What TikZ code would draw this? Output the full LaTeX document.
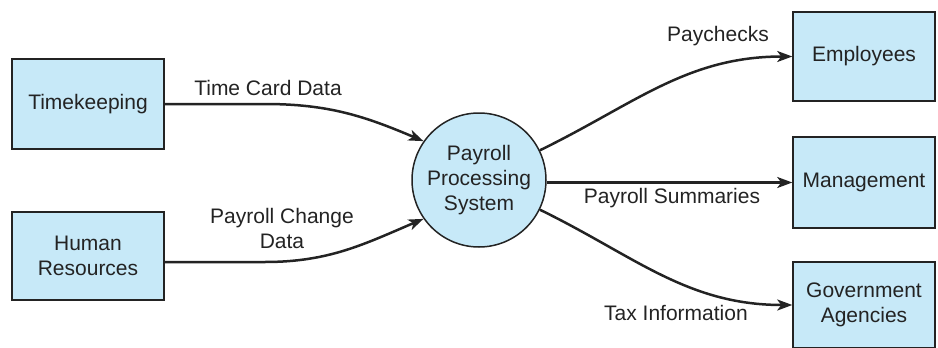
\documentclass[tikz,border=0pt]{standalone}
\usepackage{fontspec}
\setmainfont{Liberation Sans}
\usetikzlibrary{arrows.meta}
\definecolor{boxfill}{RGB}{199,233,248}
\definecolor{edge}{RGB}{35,35,35}
\begin{document}
\begin{tikzpicture}[x=1pt,y=-1pt,
  font=\fontsize{21}{25}\selectfont,
  entity/.style={draw=edge,line width=1.5pt,fill=boxfill,minimum width=152pt,minimum height=90pt,align=center,text=edge,inner sep=0pt},
  proc/.style={draw=edge,line width=1.5pt,fill=boxfill,circle,minimum size=134pt,align=center,text=edge,inner sep=0pt},
  flow/.style={draw=edge,line width=2.5pt,-{Stealth[length=15pt,width=11pt,inset=4pt]}},
  lbl/.style={text=edge,align=center,inner sep=0pt}]
\useasboundingbox (0,0) rectangle (938,348);
\node[entity] (tk) at (88,104) {Timekeeping};
\node[entity,minimum height=88pt] (hr) at (88,256) {Human\\Resources};
\node[proc] (p) at (479,180) {Payroll\\Processing\\System};
\node[entity,minimum width=142pt,minimum height=89pt] (emp) at (864,56.5) {Employees};
\node[entity,minimum width=142pt,minimum height=91pt] (mgt) at (864,182.5) {Management};
\node[entity,minimum width=142pt,minimum height=86pt] (gov) at (864,305) {Government\\Agencies};
\coordinate (a1) at (265,104);
\coordinate (a2) at (265,262);
\draw[flow] (tk.east) -- (a1) to[out=0,in=157] (p.145);
\draw[flow] (hr.east |- a2) -- (a2) to[out=0,in=203] (p.215);
\draw[flow] (p.26) to[out=26,in=180] (emp.west);
\draw[flow] (p.east |- mgt.west) -- (mgt.west);
\draw[flow] (p.-26) to[out=-26,in=180] (gov.west);
\node[lbl] (l1) at (268,88) {Time Card Data};
\node[lbl] (l2) at (282,228) {Payroll Change\\Data};
\node[lbl] (l3) at (718,36) {Paychecks};
\node[lbl] (l4) at (672,198) {Payroll Summaries};
\node[lbl] (l5) at (676,313) {Tax Information};
\end{tikzpicture}
\end{document}
